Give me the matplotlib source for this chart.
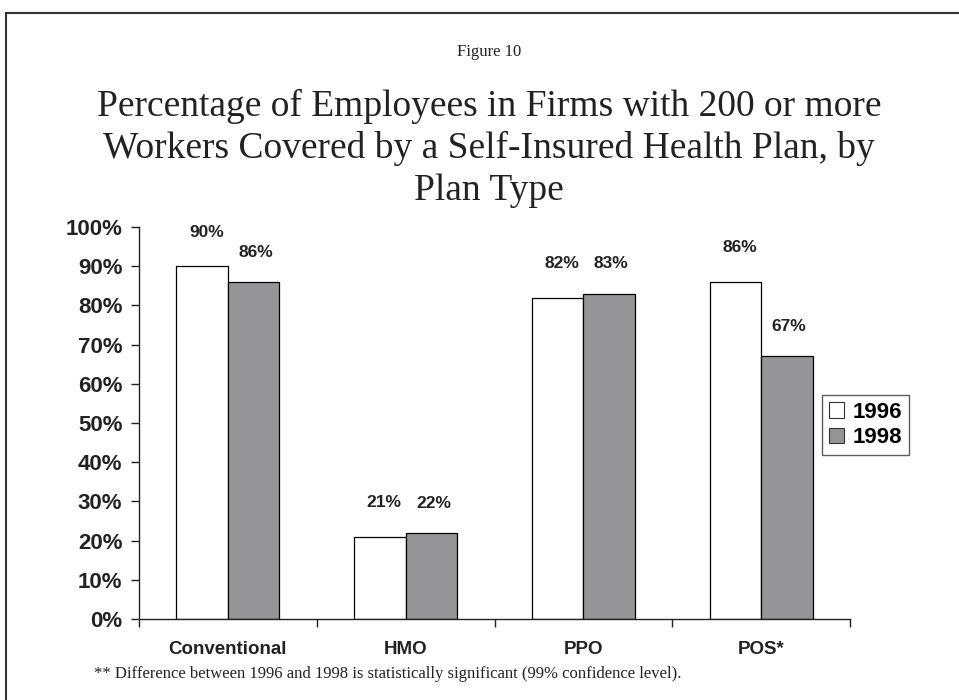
import numpy as np
import matplotlib
matplotlib.use("Agg")
import matplotlib.pyplot as plt
from matplotlib.patches import Patch
from matplotlib.lines import Line2D

# data
plan_types = ["Conventional", "HMO", "PPO", "POS*"]
years = ["1996", "1998"]
pct_1996 = [90, 21, 82, 86]
pct_1998 = [86, 22, 83, 67]
y_ticks = list(range(0, 101, 10))

col_1996 = "white"
col_1998 = "#959597"

W, H = 959, 700
fig = plt.figure(figsize=(W / 100, H / 100), dpi=100)
fig.patch.set_facecolor("white")

# plot area in pixels: left 139, right 850, top 227, bottom 619
ax = fig.add_axes([139 / W, 1 - 619 / H, (850 - 139) / W, (619 - 227) / H])

x = np.arange(len(plan_types))
bw = 0.29
b1 = ax.bar(x - bw / 2, pct_1996, bw, color=col_1996, edgecolor="black", linewidth=0.9)
b2 = ax.bar(x + bw / 2, pct_1998, bw, color=col_1998, edgecolor="black", linewidth=0.9)

# value labels above the bars
for bars, vals, dx, dy in ((b1, pct_1996, 3, 19), (b2, pct_1998, 1.5, 16)):
    for r, v in zip(bars, vals):
        ax.annotate(f"{v}%", (r.get_x() + r.get_width() / 2, v),
                    xytext=(dx, dy), textcoords="offset points",
                    ha="center", va="bottom", fontsize=12.5,
                    fontweight="bold", family="Liberation Sans", color="#222222")

ax.set_xlim(-0.5, len(plan_types) - 0.5)
ax.set_ylim(0, 100)
ax.set_yticks(y_ticks)
ax.set_yticklabels([f"{t}%" for t in y_ticks], fontsize=16, fontweight="bold",
                   family="Liberation Sans", color="#222222")

# category labels at centres, tick marks between categories
ax.set_xticks(x)
ax.set_xticklabels(plan_types, fontsize=13.5, fontweight="bold",
                   family="Liberation Sans", color="#222222")
ax.tick_params(axis="x", which="major", length=0, pad=16)
ax.set_xticks(np.arange(-0.5, len(plan_types), 1), minor=True)
ax.tick_params(axis="x", which="minor", length=6, width=1, color="#222222")
ax.tick_params(axis="y", length=6, width=1, color="#222222", pad=6)

for s in ("top", "right"):
    ax.spines[s].set_visible(False)
for s in ("left", "bottom"):
    ax.spines[s].set_color("#222222")
    ax.spines[s].set_linewidth(1)

handles = [Patch(facecolor=col_1996, edgecolor="#333333", linewidth=0.8),
           Patch(facecolor=col_1998, edgecolor="#333333", linewidth=0.8)]
leg = fig.legend(handles, years, loc="upper left",
                 bbox_to_anchor=(822 / W, 1 - 395 / H),
                 prop={"family": "Liberation Sans", "weight": "bold", "size": 16},
                 frameon=True, fancybox=False, edgecolor="#333333",
                 handlelength=0.7, handleheight=0.7, handletextpad=0.4,
                 borderpad=0.3, labelspacing=0.2, borderaxespad=0)
leg.get_frame().set_linewidth(1)

# headings
serif = "Liberation Serif"
fig.text(489 / W, 1 - 56 / H, "Figure 10", ha="center", va="baseline",
         fontsize=12, family=serif, color="#222222")
title_lines = ["Percentage of Employees in Firms with 200 or more",
               "Workers Covered by a Self-Insured Health Plan, by",
               "Plan Type"]
for i, line in enumerate(title_lines):
    fig.text(489 / W, 1 - (116 + 42 * i) / H, line, ha="center", va="baseline",
             fontsize=27, family=serif, color="#222222")

fig.text(94 / W, 1 - 678 / H,
         "** Difference between 1996 and 1998 is statistically significant (99% confidence level).",
         ha="left", va="baseline", fontsize=12, family=serif, color="#222222")

# page frame (top and left edges)
fig.add_artist(Line2D([6 / W, 1], [1 - 13 / H, 1 - 13 / H], transform=fig.transFigure,
                      color="#333333", linewidth=1.5))
fig.add_artist(Line2D([6 / W, 6 / W], [1 - 13 / H, 0], transform=fig.transFigure,
                      color="#333333", linewidth=1.5))

fig.savefig("out.png", dpi=100)
